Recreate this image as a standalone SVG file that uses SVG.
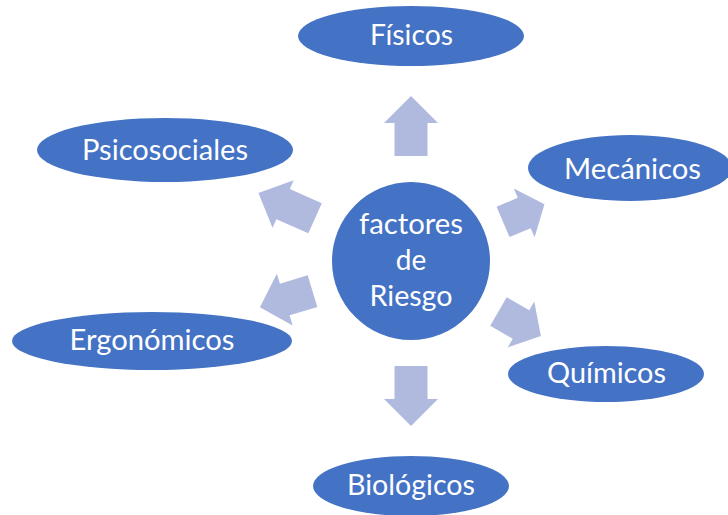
<svg xmlns="http://www.w3.org/2000/svg" width="728" height="515" viewBox="0 0 728 515">
<style>
.node{fill:#4472C4;}
.arr{fill:#AFBADE;}
.t{fill:#FFFFFF;font-family:Lato,"Open Sans","Liberation Sans",sans-serif;font-size:28px;text-anchor:middle;}
</style>
<rect width="728" height="515" fill="#FFFFFF"/>
<g id="connectors">
<polygon class="arr" points="0,-16.5 33,-16.5 33,-27 60,0 33,27 33,16.5 0,16.5" transform="translate(411,261) rotate(-90) translate(105,0)"/>
<polygon class="arr" points="0,-16.5 33,-16.5 33,-27 60,0 33,27 33,16.5 0,16.5" transform="translate(411,261) rotate(90) translate(105,0)"/>
<polygon class="arr" points="0,-16.5 35,-16.5 35,-26 62,0 35,26 35,16.5 0,16.5" transform="translate(411,261) rotate(204) translate(105,0)"/>
<polygon class="arr" points="0,-16.5 23,-16.5 23,-26.5 45,0 23,26.5 23,16.5 0,16.5" transform="translate(411,261) rotate(-23) translate(100,0)"/>
<polygon class="arr" points="0,-16.5 29,-16.5 29,-27 55,0 29,27 29,16.5 0,16.5" transform="translate(411,261) rotate(163) translate(103,0)"/>
<polygon class="arr" points="0,-16.5 26,-16.5 26,-26.5 49,0 26,26.5 26,16.5 0,16.5" transform="translate(411,261) rotate(30) translate(101,0)"/>
</g>
<g id="center">
<circle class="node" cx="411" cy="261" r="79"/>
<text class="t" x="411" y="234" textLength="104" lengthAdjust="spacingAndGlyphs">factores</text>
<text class="t" x="411" y="270">de</text>
<text class="t" x="411" y="306" textLength="83" lengthAdjust="spacingAndGlyphs">Riesgo</text>
</g>
<g id="fisicos">
<ellipse class="node" cx="411" cy="36" rx="113" ry="30"/>
<text class="t" x="411.5" y="45" textLength="83" lengthAdjust="spacingAndGlyphs">Físicos</text>
</g>
<g id="psicosociales">
<ellipse class="node" cx="165" cy="150" rx="128" ry="32"/>
<text class="t" x="165" y="160" textLength="166" lengthAdjust="spacingAndGlyphs">Psicosociales</text>
</g>
<g id="mecanicos">
<ellipse class="node" cx="630" cy="168" rx="102" ry="33"/>
<text class="t" x="632.5" y="179" textLength="137" lengthAdjust="spacingAndGlyphs">Mecánicos</text>
</g>
<g id="ergonomicos">
<ellipse class="node" cx="152" cy="341" rx="140" ry="29"/>
<text class="t" x="152" y="350" textLength="165" lengthAdjust="spacingAndGlyphs">Ergonómicos</text>
</g>
<g id="quimicos">
<ellipse class="node" cx="606" cy="374" rx="98" ry="28"/>
<text class="t" x="606.5" y="383" textLength="119" lengthAdjust="spacingAndGlyphs">Químicos</text>
</g>
<g id="biologicos">
<ellipse class="node" cx="411" cy="486" rx="98" ry="30"/>
<text class="t" x="411" y="495" textLength="128" lengthAdjust="spacingAndGlyphs">Biológicos</text>
</g>
</svg>
